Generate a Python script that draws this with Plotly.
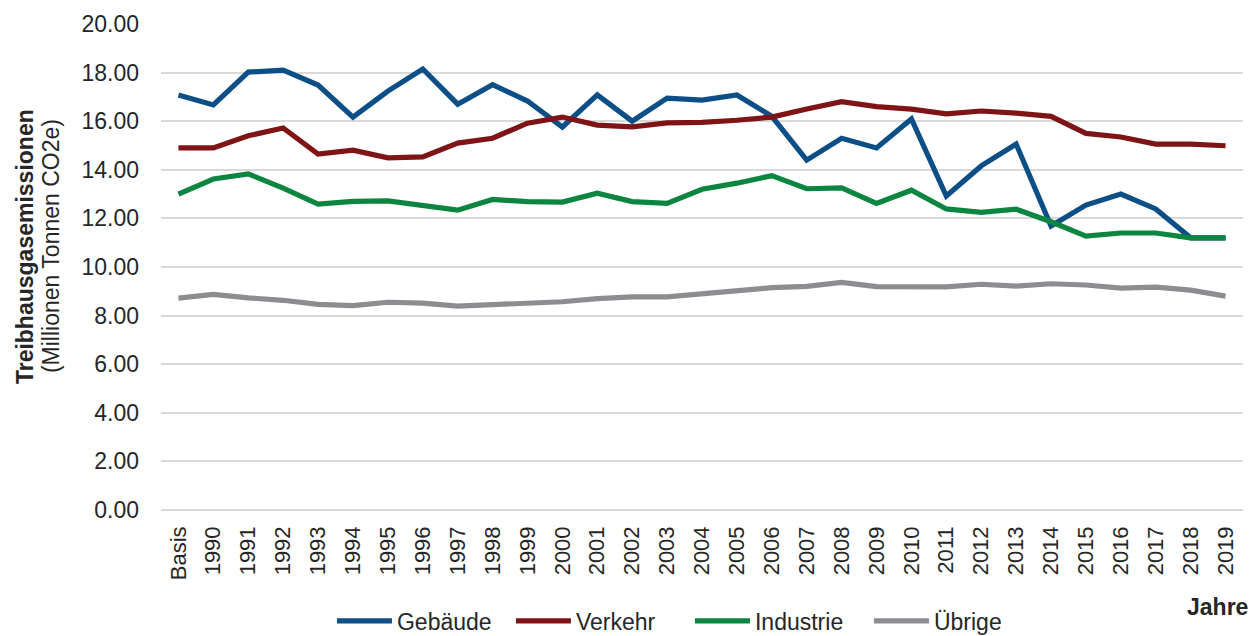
import plotly.graph_objects as go

categories = ["Basis"] + [str(y) for y in range(1990, 2020)]

gebaeude = [17.08, 16.67, 18.02, 18.10, 17.49, 16.17, 17.24, 18.15, 16.70, 17.50,
            16.83, 15.76, 17.08, 16.00, 16.95, 16.87, 17.08, 16.20, 14.40, 15.30,
            14.90, 16.09, 12.92, 14.16, 15.06, 11.69, 12.55, 13.00, 12.39, 11.20, 11.20]
verkehr = [14.90, 14.90, 15.40, 15.72, 14.65, 14.81, 14.49, 14.53, 15.10, 15.30,
           15.92, 16.17, 15.84, 15.77, 15.93, 15.95, 16.04, 16.17, 16.50, 16.80,
           16.60, 16.50, 16.30, 16.42, 16.33, 16.20, 15.50, 15.35, 15.06, 15.06, 14.99]
industrie = [13.00, 13.62, 13.83, 13.25, 12.59, 12.70, 12.72, 12.52, 12.34, 12.78,
             12.69, 12.67, 13.04, 12.69, 12.62, 13.20, 13.45, 13.76, 13.22, 13.26,
             12.62, 13.16, 12.39, 12.25, 12.38, 11.86, 11.27, 11.40, 11.40, 11.20, 11.20]
uebrige = [8.72, 8.87, 8.73, 8.63, 8.46, 8.41, 8.55, 8.51, 8.39, 8.45,
           8.46, 8.57, 8.70, 8.77, 8.77, 8.90, 9.00, 9.15, 9.20, 9.37,
           9.19, 9.19, 9.18, 9.29, 9.21, 9.31, 9.26, 9.13, 9.17, 9.05, 8.80]

series = [("Gebäude", gebaeude, "#0b4f86"),
          ("Verkehr", verkehr, "#7f1416"),
          ("Industrie", industrie, "#0c8540"),
          ("Übrige", uebrige, "#8d8d91")]

font_family = "Liberation Sans, Arial, sans-serif"
txt = "#262626"

fig = go.Figure()
for name, vals, col in series:
    fig.add_trace(go.Scatter(x=categories, y=vals, name=name, mode="lines",
                             line=dict(color=col, width=5.2)))

# page has an 8px body margin: the figure is sized to fit the window
fig.update_layout(
    width=1249, height=628,
    margin=dict(l=153, r=14, t=16, b=126),
    paper_bgcolor="white", plot_bgcolor="white",
    font=dict(family=font_family, size=23, color=txt),
    showlegend=True,
    legend=dict(orientation="h", xref="container", yref="container",
                x=0.546, xanchor="center", y=0.0239, yanchor="middle",
                font=dict(size=23, color=txt), itemwidth=55, entrywidth=109,
                bgcolor="rgba(0,0,0,0)"),
    xaxis=dict(type="category", range=[-0.5, 30.5], tickangle=-90, showgrid=False,
               showline=False, zeroline=False, tickfont=dict(size=22, color=txt),
               ticks="", ticklabelstandoff=11, automargin=False),
    yaxis=dict(range=[0, 20], tickvals=[0, 2, 4, 6, 8, 10, 12, 14, 16, 18, 20],
               tickformat=".2f", showgrid=True, gridcolor="#d9d9d9", gridwidth=1.5,
               zeroline=True, zerolinecolor="#d9d9d9", zerolinewidth=1.5,
               showline=False, ticks="", tickfont=dict(size=23, color=txt),
               ticklabelstandoff=21, automargin=False),
    annotations=[
        dict(text="<b>Treibhausgasemissionen</b>", xref="paper", yref="paper",
             x=-0.1257, y=0.543, xanchor="center", yanchor="middle", textangle=-90,
             showarrow=False, font=dict(size=23, color=txt)),
        dict(text="(Millionen Tonnen CO2e)", xref="paper", yref="paper",
             x=-0.1017, y=0.543, xanchor="center", yanchor="middle", textangle=-90,
             showarrow=False, font=dict(size=23, color=txt)),
        dict(text="<b>Jahre</b>", xref="paper", yref="paper",
             x=1.0065, y=-0.1996, xanchor="right", yanchor="middle",
             showarrow=False, font=dict(size=23, color=txt)),
    ],
)

fig.write_html("out.html")
